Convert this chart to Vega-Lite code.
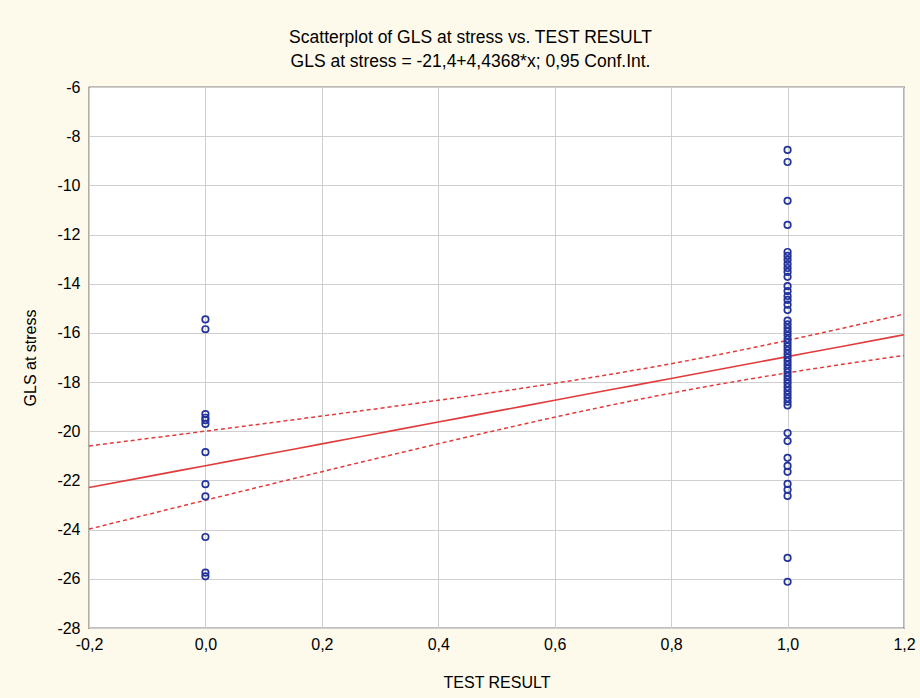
{
  "$schema": "https://vega.github.io/schema/vega-lite/v6.json",
  "width": 815,
  "height": 541,
  "autosize": {"type": "none"},
  "padding": {"left": 89, "top": 87, "right": 16, "bottom": 70},
  "background": "#fdfaec",
  "config": {
    "locale": {"number": {"decimal": ",", "thousands": ".", "grouping": [3], "currency": ["", ""], "minus": "-"}},
    "font": "Liberation Sans",
    "view": {"stroke": "#000000", "strokeWidth": 1.2, "fill": "#ffffff"},
    "axis": {"grid": true, "gridColor": "#cfcfcf", "gridWidth": 1, "domain": false, "ticks": false,
      "labelFont": "Liberation Sans", "labelFontSize": 16, "labelColor": "#000000",
      "titleFont": "Liberation Sans", "titleFontSize": 16, "titleFontWeight": "normal", "titleColor": "#000000"}
  },
  "title": {
    "text": "Scatterplot of GLS at stress vs. TEST RESULT",
    "subtitle": "GLS at stress = -21,4+4,4368*x; 0,95 Conf.Int.",
    "fontSize": 17.5, "fontWeight": "normal", "color": "#000000", "font": "Liberation Sans",
    "subtitleFontSize": 17.5, "subtitleColor": "#000000", "subtitleFont": "Liberation Sans",
    "subtitlePadding": 6, "offset": 9, "dx": -26, "anchor": "middle"
  },
  "datasets": {
    "pts": [
      {"x": 0, "y": -15.45}, {"x": 0, "y": -15.85}, {"x": 0, "y": -19.3}, {"x": 0, "y": -19.45},
      {"x": 0, "y": -19.55}, {"x": 0, "y": -19.7}, {"x": 0, "y": -20.85}, {"x": 0, "y": -22.15},
      {"x": 0, "y": -22.65}, {"x": 0, "y": -24.3}, {"x": 0, "y": -25.75}, {"x": 0, "y": -25.9},
      {"x": 1, "y": -8.56}, {"x": 1, "y": -9.05}, {"x": 1, "y": -10.63}, {"x": 1, "y": -11.61},
      {"x": 1, "y": -12.71}, {"x": 1, "y": -12.87}, {"x": 1, "y": -13.03}, {"x": 1, "y": -13.2},
      {"x": 1, "y": -13.36}, {"x": 1, "y": -13.52}, {"x": 1, "y": -13.72}, {"x": 1, "y": -14.1},
      {"x": 1, "y": -14.3}, {"x": 1, "y": -14.5}, {"x": 1, "y": -14.66}, {"x": 1, "y": -14.85},
      {"x": 1, "y": -15.07}, {"x": 1, "y": -15.5}, {"x": 1, "y": -15.65}, {"x": 1, "y": -15.8},
      {"x": 1, "y": -15.95}, {"x": 1, "y": -16.1}, {"x": 1, "y": -16.25}, {"x": 1, "y": -16.4},
      {"x": 1, "y": -16.55}, {"x": 1, "y": -16.7}, {"x": 1, "y": -16.85}, {"x": 1, "y": -17.0},
      {"x": 1, "y": -17.15}, {"x": 1, "y": -17.3}, {"x": 1, "y": -17.45}, {"x": 1, "y": -17.6},
      {"x": 1, "y": -17.75}, {"x": 1, "y": -17.9}, {"x": 1, "y": -18.05}, {"x": 1, "y": -18.2},
      {"x": 1, "y": -18.35}, {"x": 1, "y": -18.5}, {"x": 1, "y": -18.65}, {"x": 1, "y": -18.8},
      {"x": 1, "y": -18.95}, {"x": 1, "y": -20.07}, {"x": 1, "y": -20.4}, {"x": 1, "y": -21.08},
      {"x": 1, "y": -21.41}, {"x": 1, "y": -21.65}, {"x": 1, "y": -22.14}, {"x": 1, "y": -22.38},
      {"x": 1, "y": -22.63}, {"x": 1, "y": -25.15}, {"x": 1, "y": -26.12}
    ],
    "fit": [
      {"x": -0.2, "fit": -22.287, "upper": -20.597, "lower": -23.977},
      {"x": -0.1, "fit": -21.844, "upper": -20.298, "lower": -23.39},
      {"x": 0.0, "fit": -21.4, "upper": -19.996, "lower": -22.804},
      {"x": 0.1, "fit": -20.956, "upper": -19.69, "lower": -22.222},
      {"x": 0.2, "fit": -20.513, "upper": -19.381, "lower": -21.645},
      {"x": 0.3, "fit": -20.069, "upper": -19.066, "lower": -21.072},
      {"x": 0.4, "fit": -19.625, "upper": -18.741, "lower": -20.509},
      {"x": 0.5, "fit": -19.182, "upper": -18.405, "lower": -19.959},
      {"x": 0.6, "fit": -18.738, "upper": -18.049, "lower": -19.427},
      {"x": 0.7, "fit": -18.294, "upper": -17.667, "lower": -18.921},
      {"x": 0.8, "fit": -17.851, "upper": -17.252, "lower": -18.45},
      {"x": 0.9, "fit": -17.407, "upper": -16.796, "lower": -18.018},
      {"x": 1.0, "fit": -16.963, "upper": -16.303, "lower": -17.623},
      {"x": 1.1, "fit": -16.519, "upper": -15.78, "lower": -17.258},
      {"x": 1.2, "fit": -16.076, "upper": -15.237, "lower": -16.915}
    ]
  },
  "layer": [
    {
      "data": {"name": "fit"},
      "mark": {"type": "line", "color": "#e23b3b", "strokeWidth": 1.6, "interpolate": "monotone"},
      "encoding": {
        "x": {"field": "x", "type": "quantitative",
          "scale": {"domain": [-0.2, 1.2], "nice": false, "zero": false},
          "axis": {"values": [-0.2, 0, 0.2, 0.4, 0.6, 0.8, 1.0, 1.2], "format": ".1f", "title": "TEST RESULT", "labelPadding": 8, "titlePadding": 22, "labelFlush": false}},
        "y": {"field": "fit", "type": "quantitative",
          "scale": {"domain": [-28, -6], "nice": false, "zero": false},
          "axis": {"values": [-28, -26, -24, -22, -20, -18, -16, -14, -12, -10, -8, -6], "format": "d", "title": "GLS at stress", "labelPadding": 9, "titlePadding": 18}}
      }
    },
    {
      "data": {"name": "fit"},
      "mark": {"type": "line", "color": "#e23b3b", "strokeWidth": 1.5, "strokeDash": [4, 3], "interpolate": "monotone"},
      "encoding": {
        "x": {"field": "x", "type": "quantitative"},
        "y": {"field": "upper", "type": "quantitative"}
      }
    },
    {
      "data": {"name": "fit"},
      "mark": {"type": "line", "color": "#e23b3b", "strokeWidth": 1.5, "strokeDash": [4, 3], "interpolate": "monotone"},
      "encoding": {
        "x": {"field": "x", "type": "quantitative"},
        "y": {"field": "lower", "type": "quantitative"}
      }
    },
    {
      "data": {"name": "pts"},
      "mark": {"type": "point", "shape": "circle", "filled": false, "color": "#23339c", "strokeWidth": 1.7, "size": 42, "opacity": 1},
      "encoding": {
        "x": {"field": "x", "type": "quantitative"},
        "y": {"field": "y", "type": "quantitative"}
      }
    }
  ]
}
